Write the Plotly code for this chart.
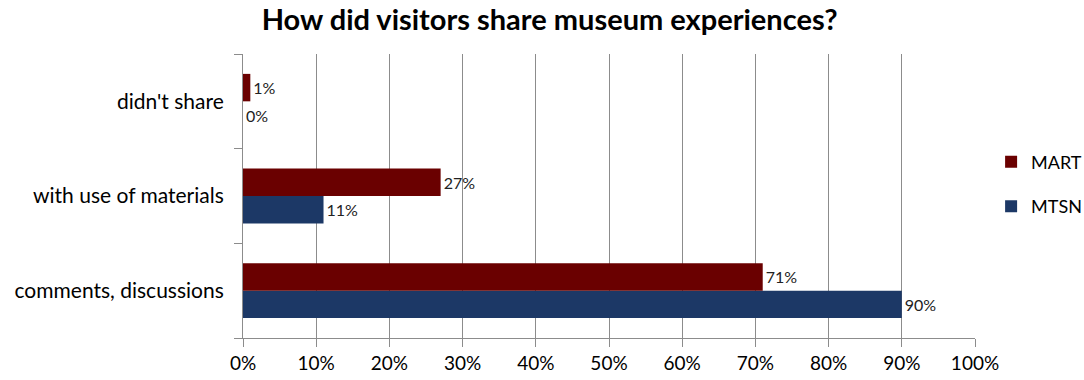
import plotly.graph_objects as go

# Share of visitors by sharing mode, per museum (percent)
categories = ["comments, discussions", "with use of materials", "didn't share"]
mart_values = [71, 27, 1]
mtsn_values = [90, 11, 0]
x_tick_values = [0, 10, 20, 30, 40, 50, 60, 70, 80, 90, 100]
x_tick_labels = [f"{v}%" for v in x_tick_values]

FONT = "Lato, 'Open Sans', sans-serif"
MART_COLOR = "#6a0000"
MTSN_COLOR = "#1c3866"
GRID = "#8c8c8c"

fig = go.Figure()
fig.add_trace(go.Bar(
    name="MTSN", y=categories, x=mtsn_values, orientation="h",
    legendgroup="mtsn", legendrank=2,
    marker=dict(color=MTSN_COLOR, line=dict(width=0)),
    text=[f"{v}%" for v in mtsn_values], textposition="outside",
    textfont=dict(size=16, color="#222222", family=FONT), cliponaxis=False,
))
fig.add_trace(go.Bar(
    name="MART", y=categories, x=mart_values, orientation="h",
    legendgroup="mart", legendrank=1,
    marker=dict(color=MART_COLOR, line=dict(width=0)),
    text=[f"{v}%" for v in mart_values], textposition="outside",
    textfont=dict(size=16, color="#222222", family=FONT), cliponaxis=False,
))

fig.update_layout(
    width=1084, height=380,
    margin=dict(l=243, r=109, t=54, b=42, autoexpand=False),
    paper_bgcolor="white", plot_bgcolor="white",
    barmode="group", bargap=0.42, bargroupgap=0,
    font=dict(family=FONT, size=19, color="#000000"),
    title=dict(text="<b>How did visitors share museum experiences?</b>",
               x=0.507, xanchor="center", y=0.947, yanchor="middle",
               font=dict(size=29, family=FONT, color="#000000")),
    legend=dict(traceorder="grouped", x=1.022, xanchor="left",
                y=0.542, yanchor="middle", font=dict(size=18, family=FONT),
                itemwidth=30, tracegroupgap=18),
    xaxis=dict(range=[0, 100], tickvals=x_tick_values, ticktext=x_tick_labels,
               showgrid=True, gridcolor=GRID, gridwidth=1,
               showline=True, linecolor=GRID, linewidth=1,
               ticks="outside", ticklen=8, tickcolor=GRID,
               zeroline=False, tickfont=dict(size=19)),
    yaxis=dict(showline=True, linecolor=GRID, linewidth=1,
               ticks="outside", ticklen=8, tickcolor=GRID,
               tickson="boundaries", showgrid=False,
               ticklabelstandoff=14, tickfont=dict(size=21)),
)

fig.write_html("out.html")
